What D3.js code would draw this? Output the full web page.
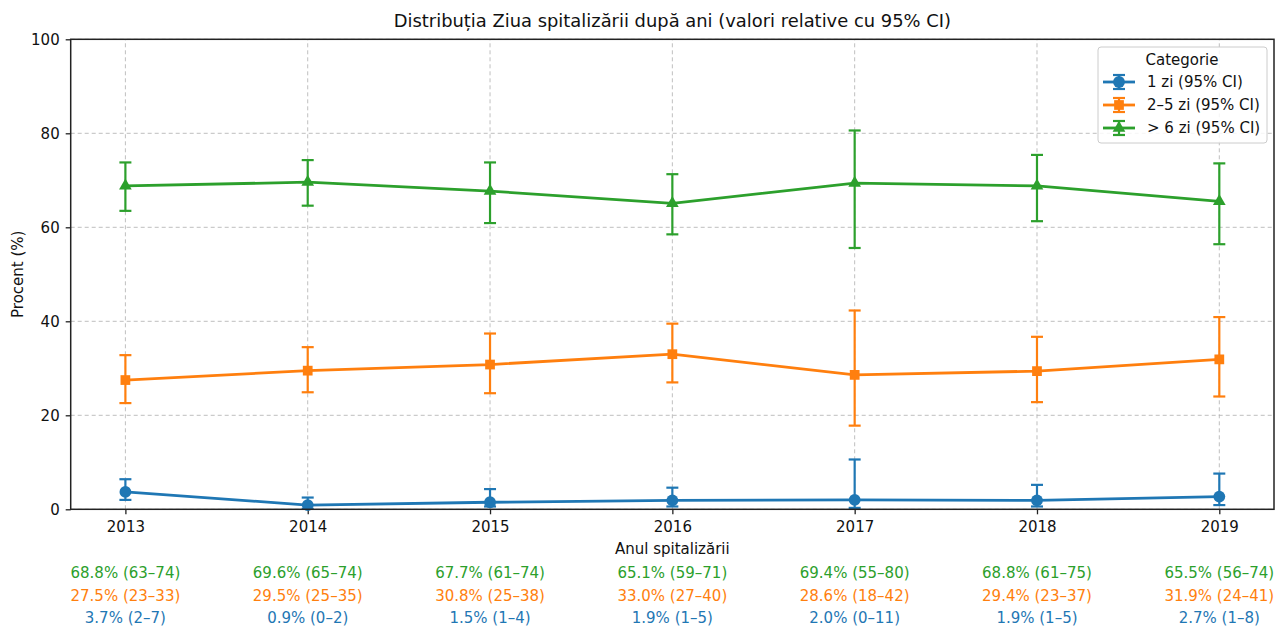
<!DOCTYPE html>
<html>
<head>
<meta charset="utf-8">
<script src="https://cdn.jsdelivr.net/npm/d3@7"></script>
<style>
  body { margin: 0; background: #fff; }
  svg { display: block; font-family: "DejaVu Sans", sans-serif; }
</style>
</head>
<body>
<svg id="chart"></svg>
<script>
const years = [2013, 2014, 2015, 2016, 2017, 2018, 2019]
const seriesNames = ['1 zi (95% CI)', '2–5 zi (95% CI)', '> 6 zi (95% CI)']
const seriesColors = ['#1f77b4', '#ff7f0e', '#2ca02c']
const yTicks = [0, 20, 40, 60, 80, 100]

// point estimates (%)
const oneDay = [3.7, 0.9, 1.5, 1.9, 2.0, 1.9, 2.7]
const twoToFive = [27.5, 29.5, 30.8, 33.0, 28.6, 29.4, 31.9]
const overSix = [68.8, 69.6, 67.7, 65.1, 69.4, 68.8, 65.5]

// 95% CI bounds as drawn
const oneDayLow = [2.0, 0.1, 0.6, 0.6, 0.3, 0.6, 0.9]
const oneDayHigh = [6.4, 2.5, 4.3, 4.6, 10.6, 5.2, 7.6]
const twoToFiveLow = [22.6, 24.9, 24.7, 27.0, 17.8, 22.8, 24.0]
const twoToFiveHigh = [32.8, 34.5, 37.4, 39.5, 42.3, 36.7, 40.9]
const overSixLow = [63.5, 64.6, 60.9, 58.5, 55.6, 61.3, 56.4]
const overSixHigh = [73.8, 74.3, 73.8, 71.3, 80.6, 75.4, 73.6]

// rounded CI text under the axis
const oneDayCiText = ['2–7', '0–2', '1–4', '1–5', '0–11', '1–5', '1–8']
const twoToFiveCiText = ['23–33', '25–35', '25–38', '27–40', '18–42', '23–37', '24–41']
const overSixCiText = ['63–74', '65–74', '61–74', '59–71', '55–80', '61–75', '56–74']

const series = [
  { name: seriesNames[0], values: oneDay, low: oneDayLow, high: oneDayHigh, ci: oneDayCiText, symbol: d3.symbolCircle, size: 110 },
  { name: seriesNames[1], values: twoToFive, low: twoToFiveLow, high: twoToFiveHigh, ci: twoToFiveCiText, symbol: d3.symbolSquare, size: 95 },
  { name: seriesNames[2], values: overSix, low: overSixLow, high: overSixHigh, ci: overSixCiText, symbol: d3.symbolTriangle, size: 70 }
]

const width = 1287
const height = 627
const margin = { top: 39.3, right: 13, bottom: 117.7, left: 70.7 }
const fontSize = '15px'

const svg = d3.select('#chart').attr('width', width).attr('height', height)

const x = d3.scaleLinear()
  .domain([2012.7, 2019.3])
  .range([margin.left, width - margin.right])

const y = d3.scaleLinear()
  .domain([0, 100])
  .range([height - margin.bottom, margin.top])

// grid
const grid = svg.append('g')
grid.selectAll('.gx').data(years).enter().append('line')
  .attr('x1', d => x(d)).attr('x2', d => x(d))
  .attr('y1', y(0)).attr('y2', y(100))
  .attr('stroke', '#b0b0b0').attr('stroke-width', 1).attr('stroke-dasharray', '4,3')
  .attr('opacity', 0.8)
grid.selectAll('.gy').data(yTicks).enter().append('line')
  .attr('x1', x.range()[0]).attr('x2', x.range()[1])
  .attr('y1', d => y(d)).attr('y2', d => y(d))
  .attr('stroke', '#b0b0b0').attr('stroke-width', 1).attr('stroke-dasharray', '4,3')
  .attr('opacity', 0.8)

// axes
const xAxis = svg.append('g')
  .attr('transform', `translate(0,${y(0)})`)
  .call(d3.axisBottom(x).tickValues(years).tickFormat(d3.format('d')).tickSize(5).tickSizeOuter(0))
const yAxis = svg.append('g')
  .attr('transform', `translate(${x.range()[0]},0)`)
  .call(d3.axisLeft(y).tickValues(yTicks).tickSize(5).tickSizeOuter(0))

;[xAxis, yAxis].forEach(a => {
  a.select('.domain').remove()
  a.selectAll('.tick line').attr('stroke', '#222').attr('stroke-width', 1.3)
  a.selectAll('.tick text').attr('fill', '#111').attr('font-size', fontSize)
    .attr('font-family', '"DejaVu Sans", sans-serif')
})
xAxis.selectAll('.tick text').attr('dy', '1.0em')
yAxis.selectAll('.tick text').attr('dx', '-0.2em')

// series
const line = d3.line()
  .x((d, i) => x(years[i]))
  .y(d => y(d))

series.forEach((s, k) => {
  const color = seriesColors[k]
  const g = svg.append('g')

  // error bars
  years.forEach((yr, i) => {
    const cx = x(yr)
    g.append('line')
      .attr('x1', cx).attr('x2', cx)
      .attr('y1', y(s.low[i])).attr('y2', y(s.high[i]))
      .attr('stroke', color).attr('stroke-width', 2.2)
    ;[s.low[i], s.high[i]].forEach(v => {
      g.append('line')
        .attr('x1', cx - 6).attr('x2', cx + 6)
        .attr('y1', y(v)).attr('y2', y(v))
        .attr('stroke', color).attr('stroke-width', 2.2)
    })
  })

  g.append('path')
    .datum(s.values)
    .attr('d', line)
    .attr('fill', 'none')
    .attr('stroke', color)
    .attr('stroke-width', 2.8)

  g.selectAll('.pt').data(s.values).enter().append('path')
    .attr('d', d3.symbol().type(s.symbol).size(s.size))
    .attr('transform', (d, i) => `translate(${x(years[i])},${y(d)})`)
    .attr('fill', color)
})

// frame
svg.append('rect')
  .attr('x', x.range()[0]).attr('y', y(100))
  .attr('width', x.range()[1] - x.range()[0])
  .attr('height', y(0) - y(100))
  .attr('fill', 'none').attr('stroke', '#222').attr('stroke-width', 1.5)

// title and axis labels
svg.append('text')
  .attr('x', (x.range()[0] + x.range()[1]) / 2).attr('y', 27)
  .attr('text-anchor', 'middle').attr('font-size', '17.9px').attr('fill', '#111')
  .text('Distribuția Ziua spitalizării după ani (valori relative cu 95% CI)')

svg.append('text')
  .attr('x', (x.range()[0] + x.range()[1]) / 2).attr('y', 554)
  .attr('text-anchor', 'middle').attr('font-size', fontSize).attr('fill', '#111')
  .text('Anul spitalizării')

svg.append('text')
  .attr('transform', `translate(23,${(y(0) + y(100)) / 2}) rotate(-90)`)
  .attr('text-anchor', 'middle').attr('font-size', fontSize).attr('fill', '#111')
  .text('Procent (%)')

// annotation rows under the axis: green, orange, blue
const rowY = [578, 600.5, 623]
;[2, 1, 0].forEach((k, row) => {
  const s = series[k]
  svg.append('g').selectAll('text').data(years).enter().append('text')
    .attr('x', d => x(d))
    .attr('y', rowY[row])
    .attr('text-anchor', 'middle')
    .attr('font-size', fontSize)
    .attr('fill', seriesColors[k])
    .text((d, i) => `${s.values[i].toFixed(1)}% (${s.ci[i]})`)
})

// legend
const legend = svg.append('g').attr('transform', 'translate(1098,47)')
legend.append('rect')
  .attr('width', 169).attr('height', 96).attr('rx', 3)
  .attr('fill', '#fff').attr('fill-opacity', 0.85)
  .attr('stroke', '#ccc').attr('stroke-width', 1)
legend.append('text')
  .attr('x', 84).attr('y', 18)
  .attr('text-anchor', 'middle').attr('font-size', fontSize).attr('fill', '#111')
  .text('Categorie')

series.forEach((s, k) => {
  const ly = 35 + k * 23
  const color = seriesColors[k]
  const item = legend.append('g').attr('transform', `translate(0,${ly})`)
  item.append('line').attr('x1', 5).attr('x2', 37).attr('y1', 0).attr('y2', 0)
    .attr('stroke', color).attr('stroke-width', 2.8)
  item.append('line').attr('x1', 21).attr('x2', 21).attr('y1', -7).attr('y2', 7)
    .attr('stroke', color).attr('stroke-width', 2.2)
  ;[-7, 7].forEach(v => {
    item.append('line').attr('x1', 15).attr('x2', 27).attr('y1', v).attr('y2', v)
      .attr('stroke', color).attr('stroke-width', 2.2)
  })
  item.append('path')
    .attr('d', d3.symbol().type(s.symbol).size(s.size))
    .attr('transform', 'translate(21,0)')
    .attr('fill', color)
  item.append('text')
    .attr('x', 49).attr('y', 5)
    .attr('font-size', fontSize).attr('fill', '#111')
    .text(s.name)
})
</script>
</body>
</html>
